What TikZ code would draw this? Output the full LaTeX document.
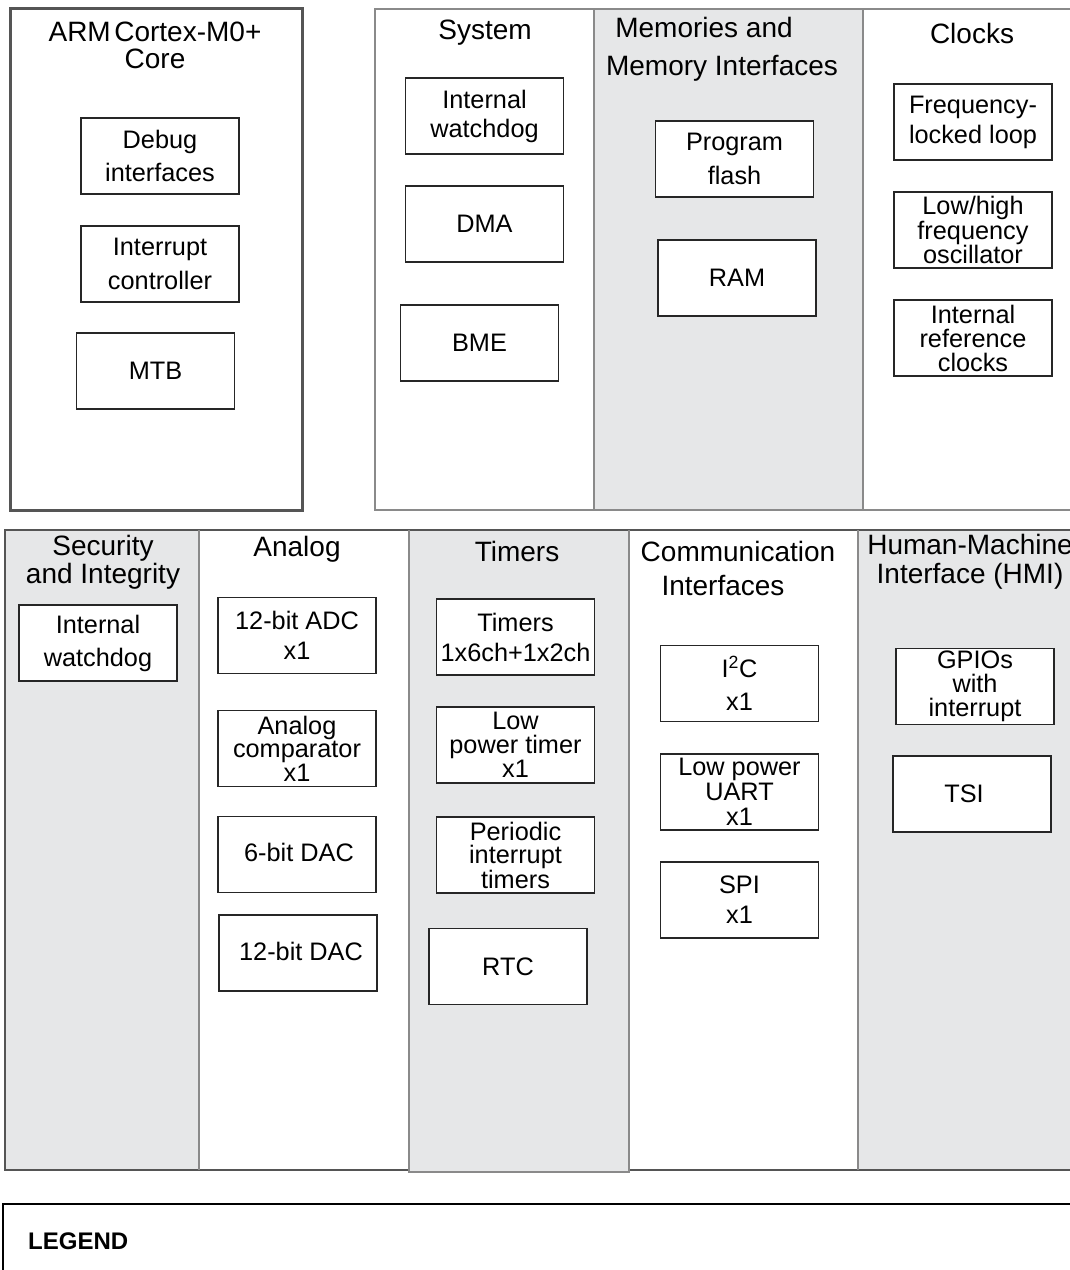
\documentclass[tikz,border=0pt]{standalone}
\usepackage{fontspec}
\setmainfont{Liberation Sans}
\definecolor{colgray}{HTML}{E6E7E8}
\definecolor{edgegray}{HTML}{8A8A8A}
\definecolor{darkedge}{HTML}{555555}
\begin{document}
\begin{tikzpicture}[x=1pt,y=-1pt]
\tikzset{
  blk/.style={draw=black!85, line width=1.2pt, fill=white, inner sep=0pt,
    minimum width=158, minimum height=76, align=center,
    font=\fontsize{25.3}{#1}\selectfont},
  blk/.default=33,
  hdr/.style={align=center, inner sep=0pt, font=\fontsize{28}{#1}\selectfont},
  hdr/.default=28,
  colline/.style={draw=edgegray, line width=1.2pt},
  rowline/.style={draw=darkedge, line width=1.2pt},
}
\useasboundingbox (0,0) rectangle (1070,1270);
\fill[white] (0,0) rectangle (1070,1270);

% ---------- top left: ARM core ----------
\draw[draw=darkedge, line width=3pt] (10,8) rectangle (302,510);
\node[hdr=27] (armt) at (155,45) {ARM\hspace{-0.15em} Cortex-M0+\\Core};
\node[blk] (dbg) at (160,156) {Debug\\interfaces};
\node[blk=34] (intc) at (160,264) {Interrupt\\controller};
\node[blk] (mtb) at (155.5,371) {MTB};

% ---------- top right group ----------
\fill[colgray] (594,9) rectangle (863,510);
\draw[colline] (1080,9) -- (375,9) -- (375,510) -- (1080,510);
\draw[colline] (594,9) -- (594,510);
\draw[colline] (863,9) -- (863,510);
\node[hdr] (syst) at (485,33) {System};
\node[hdr=38] (memt) at (722,49) {Memories and\hspace*{36pt}\\Memory Interfaces};
\node[hdr] (clkt) at (972,33) {Clocks};

\node[blk=29] (iwdg) at (484.5,116) {Internal\\watchdog};
\node[blk] (dma) at (484.5,224) {DMA};
\node[blk] (bme) at (479.5,343) {BME};

\node[blk=34] (pflash) at (734.5,159) {Program\\flash};
\node[blk] (ram) at (737,278) {RAM};

\node[blk=30] (fll) at (973,122) {Frequency-\\locked loop};
\node[blk=21] (osc) at (973,230) {Low/high\\frequency\\oscillator};
\node[blk=24] (irc) at (973,338) {Internal\\reference\\clocks};

% ---------- bottom row ----------
\fill[colgray] (5,530) rectangle (199,1170);
\fill[colgray] (409,530) rectangle (629,1172);
\fill[colgray] (858,530) rectangle (1080,1170);
\draw[rowline] (1080,530) -- (5,530) -- (5,1170) -- (409,1170);
\draw[rowline] (629,1170) -- (1080,1170);
\draw[colline] (199,530) -- (199,1170);
\draw[colline] (409,530) -- (409,1172) -- (629,1172) -- (629,530);
\draw[colline] (858,530) -- (858,1170);

\node[hdr] (sect) at (103,562) {Security\\and Integrity};
\node[hdr] (anat) at (297,549) {Analog};
\node[hdr] (timt) at (517,551) {Timers};
\node[hdr=34] (comt) at (738,568) {Communication\\Interfaces\hspace*{30pt}};
\node[hdr=29] (hmit) at (970,562) {Human-Machine\\Interface (HMI)};

\node[blk=33] (wdog2) at (98,643) {Internal\\watchdog};

\node[blk=30] (adc) at (297,635.5) {12-bit ADC\\x1};
\node[blk=23.5] (cmp) at (297,748.5) {Analog\\comparator\\x1};
\node[blk] (dac6) at (297,854.5) {\raisebox{4pt}{\hspace*{4pt}6-bit DAC}};
\node[blk] (dac12) at (298,953) {\raisebox{3pt}{\hspace*{6pt}12-bit DAC}};

\node[blk=30] (tpm) at (515.5,637) {Timers\\1x6ch+1x2ch};
\node[blk=24] (lptmr) at (515.5,745) {Low\\power timer\\x1};
\node[blk=23.5] (pit) at (515.5,855) {Periodic\\interrupt\\timers};
\node[blk] (rtc) at (508,966.5) {RTC};

\node[blk=33] (i2c) at (739.5,683.5) {I\textsuperscript{2}C\\x1};
\node[blk=25] (uart) at (739.5,792) {Low power\\UART\\x1};
\node[blk=30] (spi) at (739.5,900) {SPI\\x1};

\node[blk=24] (gpio) at (975,686.5) {GPIOs\\with\\interrupt};
\node[blk] (tsi) at (972,794) {\hspace*{-16pt}TSI};

% ---------- legend ----------
\draw[draw=black, line width=1.3pt] (3,1290) -- (3,1204) -- (1080,1204);
\node[anchor=west, inner sep=0pt, font=\fontsize{24}{28}\selectfont\bfseries] (leg) at (28,1241) {LEGEND};
\end{tikzpicture}
\end{document}
